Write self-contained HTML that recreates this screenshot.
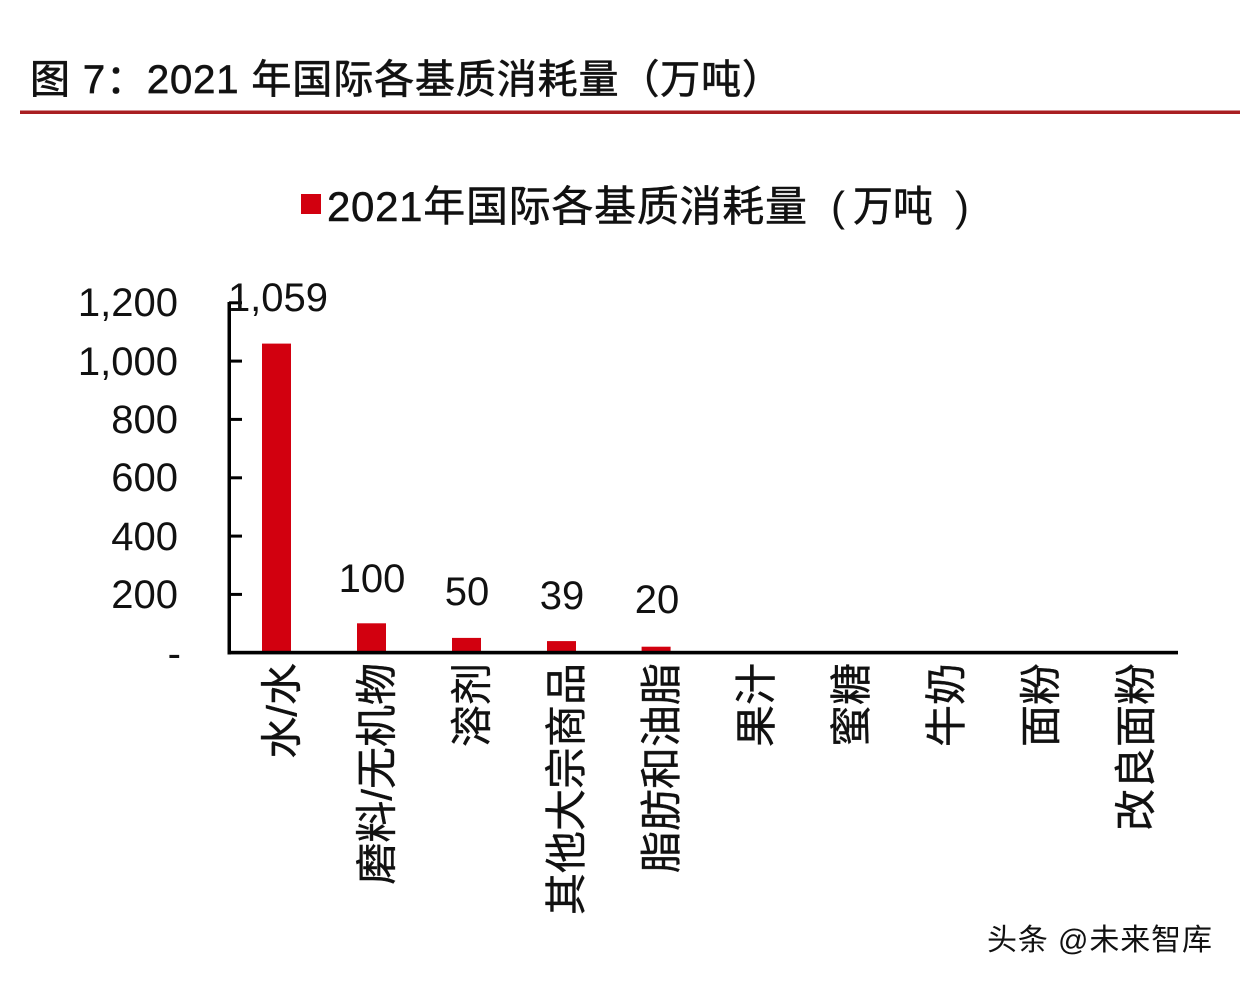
<!DOCTYPE html>
<html>
<head>
<meta charset="utf-8">
<style>
  html, body { margin: 0; padding: 0; background: #ffffff; }
  body { width: 1240px; height: 984px; overflow: hidden; }
  svg { display: block; }
  text { font-family: "Liberation Sans", "Noto Sans CJK SC", sans-serif; fill: #111; }
</style>
</head>
<body>
<svg width="1240" height="984" viewBox="0 0 1240 984" xmlns="http://www.w3.org/2000/svg">
  <rect x="0" y="0" width="1240" height="984" fill="#ffffff"/>

  <!-- Title -->
  <text x="30" y="93" font-size="40" textLength="752" lengthAdjust="spacing" fill="#1a1a1a" stroke="#1a1a1a" stroke-width="0.7">图 7：2021 年国际各基质消耗量（万吨）</text>
  <rect x="20" y="110.5" width="1220" height="3.5" fill="#a91e22"/>

  <!-- Legend -->
  <rect x="301" y="194" width="20" height="20" fill="#d2000f"/>
  <text x="327" y="221" font-size="42" textLength="480" lengthAdjust="spacing" stroke="#111" stroke-width="0.5">2021年国际各基质消耗量</text>
  <text x="831" y="221" font-size="42">(</text>
  <text x="853" y="221" font-size="42" textLength="80" lengthAdjust="spacingAndGlyphs" stroke="#111" stroke-width="0.5">万吨</text>
  <text x="955" y="221" font-size="42">)</text>

  <!-- Y axis tick labels -->
  <g font-size="40" text-anchor="end">
    <text x="178" y="316">1,200</text>
    <text x="178" y="375">1,000</text>
    <text x="178" y="433">800</text>
    <text x="178" y="491">600</text>
    <text x="178" y="550">400</text>
    <text x="178" y="608">200</text>
    <text x="181" y="667">-</text>
  </g>

  <!-- Bars -->
  <g fill="#d2000f">
    <rect x="262" y="343.6" width="29" height="309"/>
    <rect x="357" y="623.3" width="29" height="29.5"/>
    <rect x="452" y="637.9" width="29" height="15"/>
    <rect x="547" y="641.1" width="29" height="11.5"/>
    <rect x="641.6" y="646.7" width="29" height="6"/>
  </g>

  <!-- Axes -->
  <g fill="#000">
    <rect x="227.5" y="302" width="3.5" height="352.5"/>
    <rect x="227.5" y="650.8" width="950.5" height="3.6"/>
    <rect x="229" y="301.3" width="13" height="3"/>
    <rect x="229" y="359.6" width="13" height="3"/>
    <rect x="229" y="417.9" width="13" height="3"/>
    <rect x="229" y="476.3" width="13" height="3"/>
    <rect x="229" y="534.6" width="13" height="3"/>
    <rect x="229" y="592.9" width="13" height="3"/>
  </g>

  <!-- Data labels -->
  <g font-size="40" text-anchor="middle">
    <text x="278" y="311">1,059</text>
    <text x="372" y="592">100</text>
    <text x="467" y="605">50</text>
    <text x="562" y="609">39</text>
    <text x="657" y="613">20</text>
  </g>

  <!-- Category labels (rotated) -->
  <g font-size="42" text-anchor="end" fill="#111" stroke="#111" stroke-width="0.4">
    <text transform="translate(296.5,663) rotate(-90)">水/水</text>
    <text transform="translate(391.4,663) rotate(-90)">磨料/无机物</text>
    <text transform="translate(486.3,663) rotate(-90)">溶剂</text>
    <text transform="translate(581.2,663) rotate(-90)">其他大宗商品</text>
    <text transform="translate(676.1,663) rotate(-90)">脂肪和油脂</text>
    <text transform="translate(771,663) rotate(-90)">果汁</text>
    <text transform="translate(865.9,663) rotate(-90)">蜜糖</text>
    <text transform="translate(960.8,663) rotate(-90)">牛奶</text>
    <text transform="translate(1055.7,663) rotate(-90)">面粉</text>
    <text transform="translate(1150.6,663) rotate(-90)">改良面粉</text>
  </g>

  <!-- Watermark -->
  <text x="987" y="950" font-size="30" fill="#2e2e2e" textLength="225" lengthAdjust="spacing">头条 @未来智库</text>
</svg>
</body>
</html>
